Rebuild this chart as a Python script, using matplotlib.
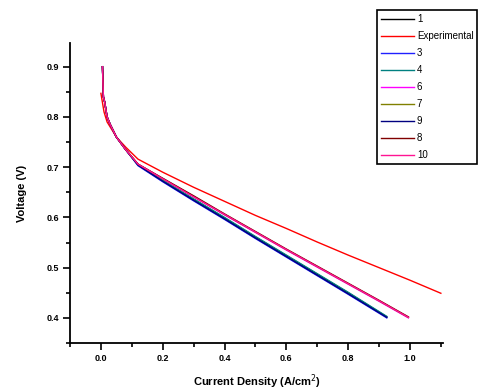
import matplotlib
matplotlib.use("Agg")
import matplotlib.pyplot as plt
from matplotlib.ticker import MultipleLocator

plt.rcParams['font.family'] = ['Liberation Sans', 'DejaVu Sans']

# current density (A/cm2) for the model curves
j_model = [0.005, 0.008, 0.012, 0.02, 0.03, 0.05, 0.08, 0.12, 0.2, 0.3, 0.4,
           0.5, 0.6, 0.7, 0.8, 0.925]
j_model_long = [0.005, 0.008, 0.012, 0.02, 0.03, 0.05, 0.08, 0.12, 0.2, 0.3,
                0.4, 0.5, 0.6, 0.7, 0.8, 0.9, 0.995]

# lower group (ends near 0.92 A/cm2)
v_3 = [0.900, 0.840, 0.830, 0.800, 0.785, 0.760, 0.735, 0.703, 0.671, 0.633,
       0.596, 0.558, 0.521, 0.484, 0.447, 0.400]
v_9 = [0.900, 0.840, 0.830, 0.800, 0.785, 0.760, 0.735, 0.704, 0.672, 0.634,
       0.597, 0.559, 0.522, 0.485, 0.448, 0.401]
v_1 = [0.900, 0.840, 0.830, 0.800, 0.785, 0.760, 0.735, 0.705, 0.673, 0.636,
       0.599, 0.561, 0.524, 0.487, 0.450, 0.402]
v_4 = [0.900, 0.840, 0.830, 0.800, 0.785, 0.760, 0.735, 0.705, 0.674, 0.637,
       0.600, 0.562, 0.525, 0.488, 0.451, 0.403]

# upper group (ends near 1.0 A/cm2)
v_6 = [0.900, 0.840, 0.830, 0.800, 0.785, 0.760, 0.735, 0.706, 0.677, 0.641,
       0.605, 0.570, 0.535, 0.501, 0.467, 0.433, 0.400]
v_7 = [0.900, 0.840, 0.830, 0.800, 0.785, 0.760, 0.735, 0.706, 0.677, 0.642,
       0.606, 0.571, 0.536, 0.502, 0.468, 0.434, 0.401]
v_8 = [0.900, 0.840, 0.830, 0.800, 0.785, 0.760, 0.735, 0.706, 0.678, 0.643,
       0.607, 0.572, 0.537, 0.503, 0.469, 0.435, 0.402]
v_10 = [0.900, 0.840, 0.830, 0.800, 0.785, 0.760, 0.735, 0.706, 0.677, 0.641,
        0.606, 0.571, 0.536, 0.502, 0.468, 0.434, 0.401]

# experimental data
j_exp = [0.0, 0.01, 0.02, 0.03, 0.05, 0.08, 0.12, 0.2, 0.3, 0.4, 0.5, 0.6,
         0.7, 0.8, 0.9, 1.0, 1.1]
v_exp = [0.847, 0.810, 0.790, 0.780, 0.760, 0.740, 0.716, 0.690, 0.660,
         0.632, 0.604, 0.578, 0.551, 0.525, 0.500, 0.475, 0.449]

fig = plt.figure(figsize=(4.98, 3.9), dpi=100)
ax = fig.add_axes([0.1406, 0.1205, 0.749, 0.769])

ax.plot(j_model, v_1, color='black', lw=1, label='1')
ax.plot(j_exp, v_exp, color='red', lw=1, label='Experimental')
ax.plot(j_model, v_3, color='#2020ff', lw=1, label='3')
ax.plot(j_model, v_4, color='#008080', lw=1, label='4')
ax.plot(j_model_long, v_6, color='#ff00ff', lw=1, label='6')
ax.plot(j_model_long, v_7, color='#808000', lw=1, label='7')
ax.plot(j_model, v_9, color='#000080', lw=1, label='9')
ax.plot(j_model_long, v_8, color='#800000', lw=1, label='8')
ax.plot(j_model_long, v_10, color='#ff1493', lw=1, label='10')

ax.set_xlim(-0.1, 1.107)
ax.set_ylim(0.35, 0.947)
ax.xaxis.set_minor_locator(MultipleLocator(0.1))
ax.yaxis.set_minor_locator(MultipleLocator(0.05))
ax.set_xticks([0.0, 0.2, 0.4, 0.6, 0.8, 1.0])
ax.set_xticklabels(['0.0', '0.2', '0.4', '0.6', '0.8', '1.0'])
ax.set_yticks([0.4, 0.5, 0.6, 0.7, 0.8, 0.9])
ax.set_yticklabels(['0.4', '0.5', '0.6', '0.7', '0.8', '0.9'])

for s in ['top', 'right']:
    ax.spines[s].set_visible(False)
for s in ['left', 'bottom']:
    ax.spines[s].set_linewidth(1.3)

ax.tick_params(which='major', direction='out', length=5, width=1.2, labelsize=6.5, pad=3)
ax.tick_params(which='minor', direction='out', length=3, width=1.2)
for lbl in ax.get_xticklabels() + ax.get_yticklabels():
    lbl.set_fontweight('bold')

ax.set_xlabel('Current Density (A/cm$^2$)', fontsize=8, fontweight='bold', labelpad=7)
ax.set_ylabel('Voltage (V)', fontsize=8, fontweight='bold', labelpad=14)

leg = fig.legend(loc='upper left', bbox_to_anchor=(0.757, 0.974), fontsize=7,
                 handlelength=3.4, handletextpad=0.3, labelspacing=0.72,
                 borderaxespad=0, borderpad=0.4, fancybox=False, framealpha=1)
leg.get_frame().set_edgecolor('black')
leg.get_frame().set_linewidth(1.2)

fig.savefig('out.png', dpi=100)
